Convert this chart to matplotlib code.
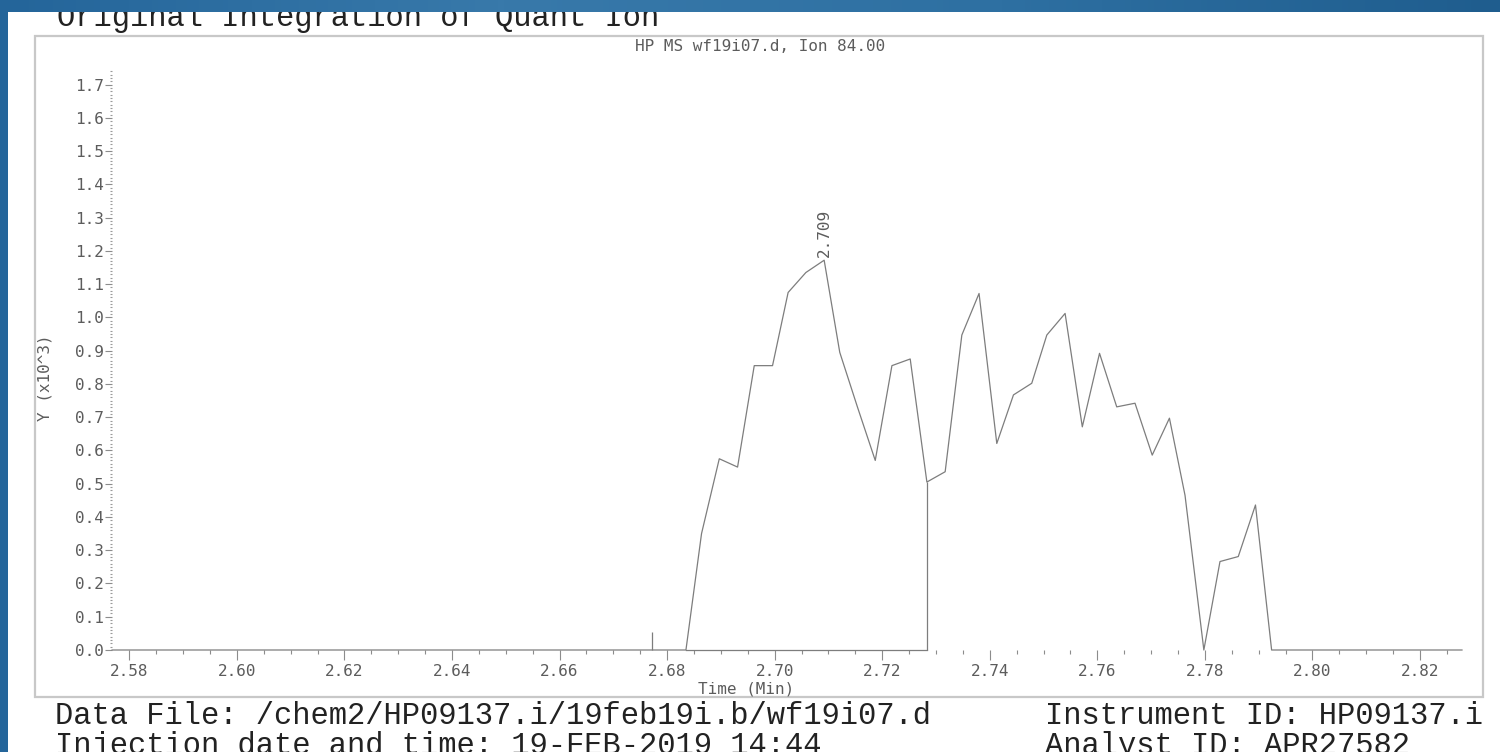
import matplotlib.pyplot as plt
import numpy as np
from matplotlib.colors import LinearSegmentedColormap
from matplotlib.patches import Rectangle
from matplotlib.ticker import FormatStrFormatter, MultipleLocator

# Extracted ion chromatogram for ion 84.00, abundance in units of 10^3 counts
rt_min = [
    2.5768, 2.6835, 2.6864, 2.6897, 2.6931, 2.6962, 2.6996, 2.7025, 2.7058,
    2.7092, 2.7121, 2.7154, 2.7187, 2.7218, 2.7252, 2.7283, 2.7317, 2.7348,
    2.7380, 2.7413, 2.7444, 2.7478, 2.7506, 2.7540, 2.7572, 2.7604, 2.7636,
    2.7670, 2.7702, 2.7734, 2.7763, 2.7798, 2.7828, 2.7862, 2.7894, 2.7924,
    2.8278,
]
abundance_k = [
    0.0, 0.0, 0.35, 0.575, 0.55, 0.855, 0.855, 1.075, 1.135,
    1.172, 0.895, 0.73, 0.57, 0.855, 0.875, 0.505, 0.536, 0.947,
    1.072, 0.621, 0.767, 0.802, 0.947, 1.012, 0.671, 0.892, 0.731,
    0.742, 0.586, 0.697, 0.465, 0.0, 0.266, 0.281, 0.436, 0.0,
    0.0,
]

# integration window and expected retention time marker
peak_start = 2.6835
peak_end = 2.7283
expected_rt = 2.6771
expected_rt_mark = 0.055

header_text = "Original Integration of Quant Ion"
plot_title = "HP MS wf19i07.d, Ion 84.00"
x_label = "Time (Min)"
y_label = "Y (x10^3)"
footer_left = [
    "Data File: /chem2/HP09137.i/19feb19i.b/wf19i07.d",
    "Injection date and time: 19-FEB-2019 14:44",
]
footer_right = ["Instrument ID: HP09137.i", "Analyst ID: APR27582"]

W, H = 1500, 752
SMALL = dict(family="DejaVu Sans Mono", size=11.5, color="#5c5c5c")
BIG = dict(family="Liberation Mono", size=22, color="#222222")
LINE = "#7d7d7d"


def frac_box(x0, y0, x1, y1):
    # pixel box (top-left origin) -> figure fraction rect
    return [x0 / W, 1 - y1 / H, (x1 - x0) / W, (y1 - y0) / H]


def main() -> None:
    plt.rcParams["font.family"] = "DejaVu Sans Mono"
    fig = plt.figure(figsize=(W / 100, H / 100), dpi=100)

    # blue slide background
    bg = fig.add_axes([0, 0, 1, 1])
    blues = LinearSegmentedColormap.from_list(
        "slide", ["#24659a", "#3879aa", "#2e70a2", "#1f5d8e"]
    )
    bg.imshow(np.linspace(0, 1, 256)[None, :], cmap=blues, aspect="auto",
              extent=[0, 1, 0, 1])
    bg.axis("off")

    # white page, in pixel coordinates
    page = fig.add_axes(frac_box(8, 12, W, H))
    page.set_xlim(8, W)
    page.set_ylim(H, 12)
    page.set_facecolor("white")
    page.set_xticks([])
    page.set_yticks([])
    for s in page.spines.values():
        s.set_visible(False)

    page.add_patch(Rectangle((35, 36), 1448, 661, fill=False,
                             edgecolor="#c8c8c8", lw=1.6))
    page.text(57, 26, header_text, ha="left", va="baseline", clip_on=True, **BIG)
    page.text(55, 724, footer_left[0], ha="left", va="baseline", clip_on=True, **BIG)
    page.text(55, 754, footer_left[1], ha="left", va="baseline", clip_on=True, **BIG)
    page.text(1045, 724, footer_right[0], ha="left", va="baseline", clip_on=True, **BIG)
    page.text(1045, 754, footer_right[1], ha="left", va="baseline", clip_on=True, **BIG)
    page.text(760, 46.5, plot_title, ha="center", va="center", **SMALL)
    page.text(746, 689.5, x_label, ha="center", va="center", **SMALL)
    page.text(45, 378, y_label, ha="center", va="center", rotation=90, **SMALL)

    # chromatogram
    ax = fig.add_axes(frac_box(112.1, 71.3, 1462, 650))
    ax.patch.set_visible(False)
    t = np.array(rt_min)
    y = np.array(abundance_k)

    ax.plot(t, y, color=LINE, lw=0.9, clip_on=False)
    ax.plot([peak_start, peak_end], [0, 0], color=LINE, lw=0.9, clip_on=False)
    ax.vlines(peak_end, 0, np.interp(peak_end, t, y), color=LINE, lw=0.9,
              clip_on=False)
    ax.vlines(expected_rt, 0, expected_rt_mark, color=LINE, lw=0.9, clip_on=False)

    apex = int(np.argmax(y))
    ax.annotate(f"{t[apex]:.3f}", xy=(t[apex], y[apex]), xytext=(0, 2),
                textcoords="offset points", rotation=90, ha="center",
                va="bottom", **SMALL)

    ax.set_xlim(2.5768, 2.8278)
    ax.set_ylim(0, 1.74)
    for s in ax.spines.values():
        s.set_visible(False)

    ax.xaxis.set_major_locator(MultipleLocator(0.02))
    ax.xaxis.set_minor_locator(MultipleLocator(0.005))
    ax.xaxis.set_major_formatter(FormatStrFormatter("%.2f"))
    ax.yaxis.set_major_locator(MultipleLocator(0.1))
    ax.yaxis.set_minor_locator(MultipleLocator(0.01))
    ax.yaxis.set_major_formatter(FormatStrFormatter("%.1f"))

    ax.tick_params(axis="x", which="major", length=7.2, width=0.8,
                   color="#8c8c8c", pad=3.2, labelsize=11.5, labelcolor="#5c5c5c")
    ax.tick_params(axis="x", which="minor", length=2.9, width=0.8,
                   color="#8c8c8c")
    ax.tick_params(axis="y", which="major", length=5, width=0.8,
                   color="#8c8c8c", pad=1, labelsize=11.5, labelcolor="#5c5c5c")
    ax.tick_params(axis="y", which="minor", length=1.5, width=0.8,
                   color="#9a9a9a")

    fig.savefig("out.png", dpi=100)


if __name__ == "__main__":
    main()
